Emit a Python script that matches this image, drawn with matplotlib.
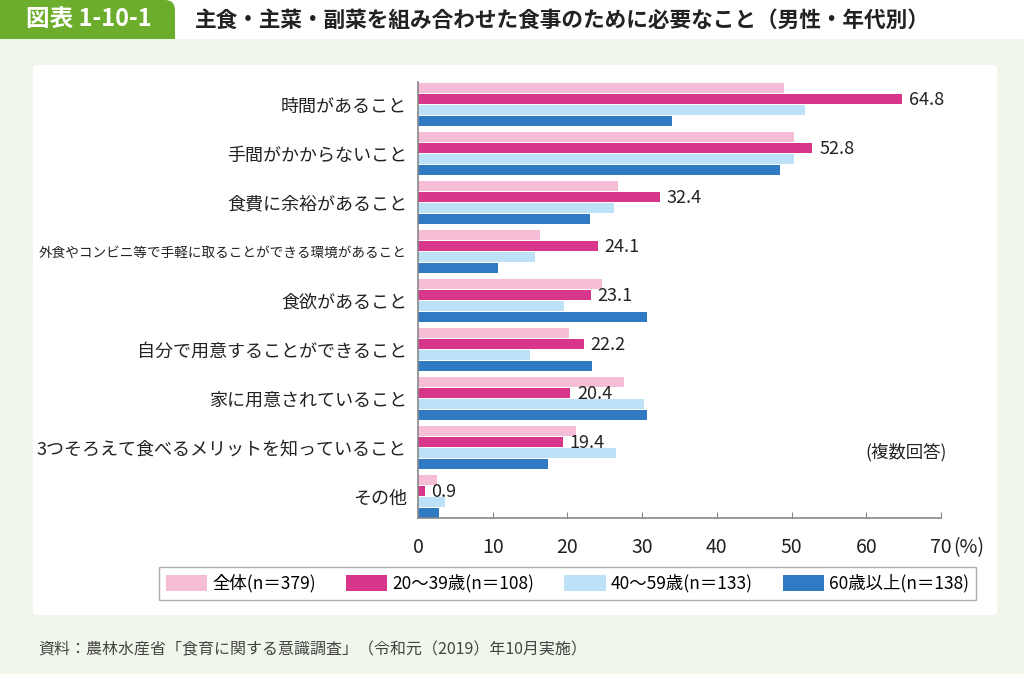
import matplotlib
matplotlib.use("Agg")
import matplotlib.pyplot as plt
import numpy as np
from matplotlib.patches import Rectangle, FancyBboxPatch

plt.rcParams['font.family'] = ['Noto Sans CJK JP', 'DejaVu Sans']

# Data (percent, multiple answers)
categories = ['時間があること', '手間がかからないこと', '食費に余裕があること',
              '外食やコンビニ等で手軽に取ることができる環境があること', '食欲があること',
              '自分で用意することができること', '家に用意されていること',
              '3つそろえて食べるメリットを知っていること', 'その他']
series_names = ['全体(n＝379)', '20～39歳(n＝108)', '40～59歳(n＝133)', '60歳以上(n＝138)']
total = [49.0, 50.3, 26.8, 16.3, 24.6, 20.2, 27.6, 21.2, 2.5]
age_20_39 = [64.8, 52.8, 32.4, 24.1, 23.1, 22.2, 20.4, 19.4, 0.9]
age_40_59 = [51.8, 50.3, 26.2, 15.7, 19.6, 15.0, 30.2, 26.5, 3.6]
age_60_up = [34.0, 48.4, 23.0, 10.7, 30.6, 23.3, 30.6, 17.4, 2.8]
colors = ['#f6bdd6', '#d8368a', '#bde2f7', '#3079c3']
x_ticks = [0, 10, 20, 30, 40, 50, 60, 70]

W, H = 1024, 674
fig = plt.figure(figsize=(W / 100, H / 100), dpi=100)
fig.patch.set_facecolor('#f0f6e9')

# background decorations in pixel coordinates
bg = fig.add_axes([0, 0, 1, 1], zorder=-5)
bg.set_xlim(0, W)
bg.set_ylim(H, 0)
bg.axis('off')
bg.add_patch(Rectangle((0, 0), W, 39, facecolor='white', edgecolor='none'))
bg.add_patch(FancyBboxPatch((-30, 0), 205, 28, boxstyle='round,pad=0,rounding_size=10',
                            facecolor='#6cad2b', edgecolor='none'))
bg.add_patch(Rectangle((0, 14), 175, 25, facecolor='#6cad2b', edgecolor='none'))
bg.add_patch(FancyBboxPatch((33, 65), 964, 550, boxstyle='round,pad=0,rounding_size=4',
                            facecolor='white', edgecolor='none'))
bg.text(89, 20, '図表 1-10-1', color='white', fontsize=17, fontweight='bold',
        ha='center', va='center')
bg.text(195, 20, '主食・主菜・副菜を組み合わせた食事のために必要なこと（男性・年代別）',
        color='#222222', fontsize=15.6, fontweight='bold', ha='left', va='center')
bg.text(38, 650, '資料：農林水産省「食育に関する意識調査」（令和元（2019）年10月実施）',
        color='#444444', fontsize=11.5, ha='left', va='center')

# chart axes
ax = fig.add_axes([418 / W, 1 - 518 / H, 523 / W, 436 / H])
ax.set_facecolor('none')
y = np.arange(len(categories))
step = 0.224
bar_h = 0.195
all_series = [total, age_20_39, age_40_59, age_60_up]
for i, (vals, c, name) in enumerate(zip(all_series, colors, series_names)):
    ax.barh(y + (i - 1.5) * step, vals, height=bar_h, color=c, label=name)

for yi, v in zip(y, age_20_39):
    ax.text(v + 0.9, yi - 0.45 * step, f'{v:.1f}', fontsize=13, color='#222222',
            ha='left', va='center')

ax.set_xlim(0, 70)
ax.set_ylim(len(categories) - 1 + 0.44, -0.46)
ax.set_xticks(x_ticks)
ax.set_xticklabels([str(t) for t in x_ticks], fontsize=14, color='#222222')
ax.tick_params(axis='x', direction='in', length=4, color='#888888', pad=14)
ax.set_yticks(y)
ax.set_yticklabels(categories, fontsize=13, color='#222222')
ax.get_yticklabels()[3].set_fontsize(9.8)
ax.tick_params(axis='y', length=0, pad=8)
for s in ['top', 'right']:
    ax.spines[s].set_visible(False)
for s in ['left', 'bottom']:
    ax.spines[s].set_color('#888888')
    ax.spines[s].set_linewidth(1.2)

ax.text(71.6, -0.068, '(%)', transform=ax.get_xaxis_transform(), fontsize=14,
        color='#222222', ha='left', va='center')
ax.text(65.3, 7.1, '(複数回答)', fontsize=12.5, color='#222222', ha='center', va='center')

handles, labels = ax.get_legend_handles_labels()
leg = fig.legend(handles, labels, ncol=4, loc='center', mode='expand',
                 bbox_to_anchor=(150 / W, 1 - 600 / H, 835 / W, 33 / H),
                 fontsize=12.5, frameon=True, fancybox=False, edgecolor='#999999',
                 handlelength=2.4, handleheight=1.0, handletextpad=0.3,
                 columnspacing=1.0, borderpad=0.4)
leg.get_frame().set_linewidth(1.0)

fig.savefig('out.png', dpi=100, facecolor=fig.get_facecolor())
